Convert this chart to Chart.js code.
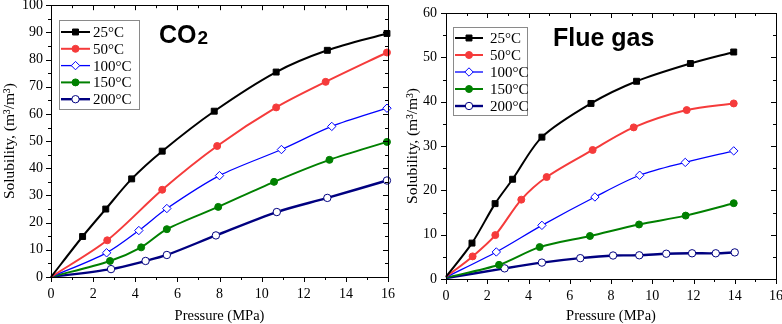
<!DOCTYPE html>
<html>
<head>
<meta charset="UTF-8" />
<title>Solubility vs pressure</title>
<script src="https://cdn.jsdelivr.net/npm/chart.js"></script>
<style>
  body { margin: 0; padding: 0; background: #fff; }
  #wrap { position: relative; width: 782px; height: 324px; overflow: hidden; }
  #left { position: absolute; left: 0; top: 0; }
  #right { position: absolute; left: 391px; top: 0; }
</style>
</head>
<body>
<div id="wrap">
  <canvas id="left" width="400" height="324"></canvas>
  <canvas id="right" width="391" height="324"></canvas>
</div>
<script>
const temps = ['25°C', '50°C', '100°C', '150°C', '200°C'];

// CO2 panel: pressure (MPa) and solubility (m3/m3)
const co2P25 = [0, 1.5, 2.6, 3.83, 5.28, 7.75, 10.69, 13.12, 15.95];
const co2S25 = [0, 14.9, 25, 36.1, 46.3, 61, 75.4, 83.4, 89.6];
const co2P50 = [0, 2.67, 5.28, 7.89, 10.69, 13.04, 15.95];
const co2S50 = [0, 13.5, 32.1, 48.2, 62.4, 71.8, 82.6];
const co2P100 = [0, 2.64, 4.17, 5.5, 8.0, 10.94, 13.33, 15.95];
const co2S100 = [0, 8.9, 17.1, 25.2, 37.3, 46.9, 55.4, 62.1];
const co2P150 = [0, 2.8, 4.28, 5.5, 7.94, 10.59, 13.22, 15.95];
const co2S150 = [0, 5.9, 10.9, 17.6, 25.8, 35, 43.1, 49.7];
const co2P200 = [0, 2.85, 4.49, 5.5, 7.83, 10.72, 13.12, 15.95];
const co2S200 = [0, 2.9, 5.9, 8.1, 15.3, 23.9, 29.1, 35.5];

// Flue gas panel
const fgP25 = [0, 1.26, 2.38, 3.23, 4.65, 7.03, 9.24, 11.85, 13.95];
const fgS25 = [0.5, 8.1, 17.0, 22.5, 32.0, 39.6, 44.6, 48.6, 51.2];
const fgP50 = [0, 1.29, 2.39, 3.65, 4.88, 7.11, 9.1, 11.67, 13.95];
const fgS50 = [0.5, 5.1, 9.9, 17.9, 23.0, 29.1, 34.2, 38.1, 39.6];
const fgP100 = [0, 2.44, 4.65, 7.22, 9.39, 11.6, 13.95];
const fgS100 = [0.4, 6.1, 12.1, 18.5, 23.4, 26.3, 28.9];
const fgP150 = [0, 2.57, 4.54, 6.98, 9.36, 11.62, 13.95];
const fgS150 = [0.3, 3.2, 7.2, 9.7, 12.3, 14.3, 17.1];
const fgP200 = [0, 2.84, 4.65, 6.51, 8.1, 9.37, 10.68, 11.93, 13.08, 14.0];
const fgS200 = [0.2, 2.4, 3.7, 4.7, 5.3, 5.35, 5.7, 5.8, 5.8, 6.0];

// marker / line look per temperature
const looks = [
  { color: '#000000', style: 'rect', fill: '#000000', lw: 2, r: 4.2 },
  { color: '#f53b3b', style: 'circle', fill: '#f53b3b', lw: 2, r: 3.5 },
  { color: '#0000ff', style: 'rectRot', fill: '#ffffff', lw: 1.3, r: 4.2 },
  { color: '#008000', style: 'circle', fill: '#008000', lw: 2, r: 3.5 },
  { color: '#000080', style: 'circle', fill: '#ffffff', lw: 2.4, r: 3.7 }
];

const serif = "'Liberation Serif', 'Times New Roman', serif";

function makeSets(xsList, ysList) {
  return xsList.map((xs, i) => {
    const lk = looks[i];
    return {
      label: temps[i],
      data: xs.map((x, j) => ({ x: x, y: ysList[i][j] })),
      showLine: true,
      tension: 0.3,
      borderColor: lk.color,
      borderWidth: lk.lw,
      backgroundColor: lk.fill,
      pointBackgroundColor: lk.fill,
      pointBorderColor: lk.color,
      pointBorderWidth: 1,
      pointStyle: lk.style,
      pointRadius: (c) => (c.dataIndex === 0 ? 0 : lk.r),
      clip: false
    };
  });
}

// box, tick marks on all four sides, in-plot legend and big label
const frame = {
  id: 'frame',
  afterDraw(chart, args, o) {
    const ctx = chart.ctx;
    const a = chart.chartArea;
    const x = chart.scales.x, y = chart.scales.y;
    ctx.save();
    ctx.strokeStyle = '#000';
    ctx.lineWidth = 1;
    ctx.strokeRect(Math.round(a.left) + 0.5, Math.round(a.top) + 0.5,
      Math.round(a.right - a.left), Math.round(a.bottom - a.top));
    ctx.beginPath();
    for (let v = x.min; v <= x.max; v += 1) {
      const px = Math.round(x.getPixelForValue(v)) + 0.5;
      const len = v % 2 === 0 ? 5 : 3;
      ctx.moveTo(px, a.bottom); ctx.lineTo(px, a.bottom + len);
      ctx.moveTo(px, a.top); ctx.lineTo(px, a.top + len);
    }
    for (let v = y.min; v <= y.max; v += 5) {
      const py = Math.round(y.getPixelForValue(v)) + 0.5;
      const len = v % 10 === 0 ? 5 : 3;
      ctx.moveTo(a.left, py); ctx.lineTo(a.left - len, py);
      ctx.moveTo(a.right, py); ctx.lineTo(a.right - len, py);
    }
    ctx.stroke();

    // legend
    const L = o.legend;
    ctx.strokeStyle = '#8a8a8a';
    ctx.strokeRect(L.x0 + 0.5, L.y0 + 0.5, L.x1 - L.x0, L.y1 - L.y0);
    ctx.font = '15px ' + serif;
    ctx.textBaseline = 'middle';
    ctx.textAlign = 'left';
    chart.data.datasets.forEach((ds, i) => {
      const ry = L.row0 + i * L.step;
      const lk = looks[i];
      ctx.strokeStyle = lk.color;
      ctx.lineWidth = lk.lw;
      ctx.beginPath();
      ctx.moveTo(L.lx0, ry); ctx.lineTo(L.lx1, ry);
      ctx.stroke();
      ctx.fillStyle = lk.fill;
      ctx.lineWidth = 1;
      Chart.helpers.drawPoint(ctx, { pointStyle: lk.style, radius: lk.r, borderWidth: 1, rotation: 0 },
        (L.lx0 + L.lx1) / 2, ry);
      ctx.fillStyle = '#000';
      ctx.fillText(ds.label, L.tx, ry + 1);
    });

    // big label
    const T = o.title;
    ctx.fillStyle = '#000';
    ctx.textBaseline = 'alphabetic';
    ctx.font = 'bold 25px "Liberation Sans", Arial, sans-serif';
    ctx.fillText(T.text, T.x, T.y);
    if (T.sub) {
      const w = ctx.measureText(T.text).width;
      ctx.font = 'bold 19px "Liberation Sans", Arial, sans-serif';
      ctx.fillText(T.sub, T.x + w + 1, T.y + 1);
    }
    ctx.restore();
  }
};

function makeChart(id, sets, yMax, area, legend, title) {
  new Chart(document.getElementById(id), {
    type: 'scatter',
    data: { datasets: sets },
    plugins: [frame],
    options: {
      responsive: false,
      animation: false,
      layout: { padding: { top: area.top, right: area.right, left: 0, bottom: 0 } },
      plugins: {
        legend: { display: false },
        tooltip: { enabled: false },
        frame: { legend: legend, title: title }
      },
      scales: {
        x: {
          type: 'linear', min: 0, max: 16,
          grid: { display: false, drawTicks: false },
          border: { display: false },
          ticks: { stepSize: 2, color: '#000', padding: area.xPad, maxRotation: 0, font: { family: serif, size: 14 } },
          title: { display: true, text: 'Pressure (MPa)', color: '#000', padding: { top: 0, bottom: 1 },
            font: { family: serif, size: 14.5, lineHeight: 1 } },
          afterFit(s) { s.height = area.xh; s.paddingLeft = 0; s.paddingRight = 0; }
        },
        y: {
          type: 'linear', min: 0, max: yMax,
          grid: { display: false, drawTicks: false },
          border: { display: false },
          ticks: { stepSize: 10, color: '#000', padding: area.yPad, font: { family: serif, size: 14 } },
          title: { display: true, text: 'Solubility, (m³/m³)', color: '#000', padding: { top: area.tPad, bottom: 0 },
            font: { family: serif, size: 15.5, lineHeight: 1 } },
          afterFit(s) { s.width = area.yw; s.paddingTop = 0; s.paddingBottom = 0; }
        }
      }
    }
  });
}

makeChart('left',
  makeSets([co2P25, co2P50, co2P100, co2P150, co2P200], [co2S25, co2S50, co2S100, co2S150, co2S200]),
  100,
  { top: 5, right: 12, xh: 47, yw: 51, yPad: 8, xPad: 9, tPad: 2.5 },
  { x0: 59, y0: 20, x1: 139, y1: 109, row0: 32, step: 16.8, lx0: 61, lx1: 90, tx: 93 },
  { text: 'CO', sub: '2', x: 159, y: 43 });

makeChart('right',
  makeSets([fgP25, fgP50, fgP100, fgP150, fgP200], [fgS25, fgS50, fgS100, fgS150, fgS200]),
  60,
  { top: 13, right: 6, xh: 45, yw: 55, yPad: 9, xPad: 9, tPad: 14.5 },
  { x0: 62, y0: 27, x1: 136, y1: 115, row0: 38, step: 17, lx0: 64, lx1: 92, tx: 99 },
  { text: 'Flue gas', sub: '', x: 162, y: 46 });
</script>
</body>
</html>
